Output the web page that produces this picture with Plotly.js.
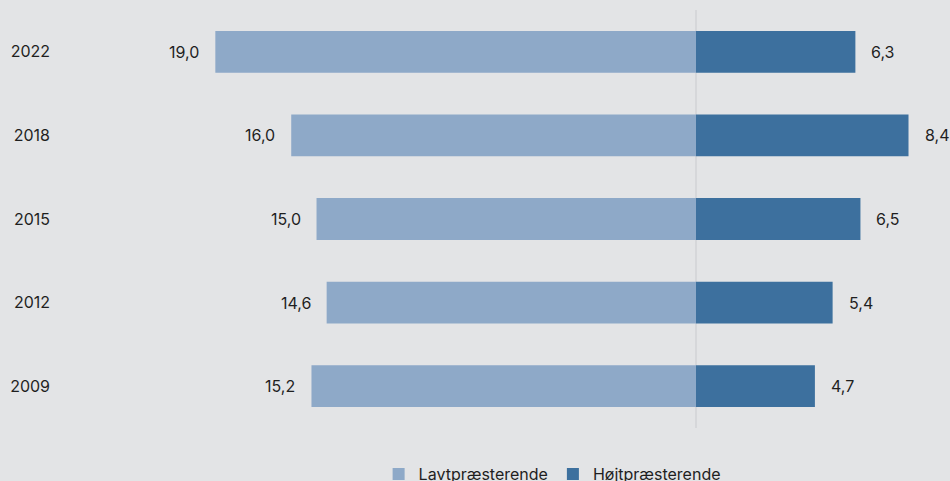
<!DOCTYPE html>
<html>
<head>
<meta charset="utf-8">
<script src="https://cdn.plot.ly/plotly-3.0.1.min.js"></script>
<style>
html,body{margin:0;padding:0;background:#e3e4e6;}
#chart{width:950px;height:481px;}
</style>
</head>
<body>
<div id="chart"></div>
<script>
const years = ['2022', '2018', '2015', '2012', '2009'];
const lowPerformers = [19.0, 16.0, 15.0, 14.6, 15.2];
const highPerformers = [6.3, 8.4, 6.5, 5.4, 4.7];
const seriesNames = ['Lavtpræsterende', 'Højtpræsterende'];

const lightBlue = '#8ea9c8';
const darkBlue = '#3d709e';
const fmt = v => v.toFixed(1).replace('.', ',');
const catOrder = years.slice().reverse();

const traces = [
  {
    type: 'bar', orientation: 'h', name: seriesNames[0],
    y: years, x: lowPerformers.map(v => -v),
    marker: {color: lightBlue}, width: 0.5, hoverinfo: 'skip'
  },
  {
    type: 'bar', orientation: 'h', name: seriesNames[1],
    y: years, x: highPerformers,
    marker: {color: darkBlue}, width: 0.5, hoverinfo: 'skip'
  }
];

const annotations = [];
years.forEach((yr, i) => {
  const yi = catOrder.indexOf(yr);
  annotations.push({
    x: -lowPerformers[i], y: yi, xref: 'x', yref: 'y',
    text: fmt(lowPerformers[i]), showarrow: false,
    xanchor: 'right', xshift: -14,
    font: {family: 'Inter, sans-serif', size: 16, color: '#1f1f1f'}
  });
  annotations.push({
    x: highPerformers[i], y: yi, xref: 'x', yref: 'y',
    text: fmt(highPerformers[i]), showarrow: false,
    xanchor: 'left', xshift: 14,
    font: {family: 'Inter, sans-serif', size: 16, color: '#1f1f1f'}
  });
});

const layout = {
  width: 950, height: 481,
  margin: {l: 60, r: 0, t: 10, b: 53, autoexpand: false},
  paper_bgcolor: '#e3e4e6', plot_bgcolor: '#e3e4e6',
  font: {family: 'Inter, sans-serif', size: 16, color: '#1f1f1f'},
  barmode: 'overlay',
  xaxis: {
    range: [-25.14, 10.04], showgrid: false, showticklabels: false,
    zeroline: true, zerolinecolor: '#d6d7da', zerolinewidth: 2,
    layer: 'above traces', fixedrange: true, automargin: false
  },
  yaxis: {
    type: 'category', categoryorder: 'array', categoryarray: catOrder,
    range: [-0.5, 4.5], autorange: false, automargin: false,
    showgrid: false, zeroline: false, ticks: '', ticklabelstandoff: 9,
    tickfont: {family: 'Inter, sans-serif', size: 16, color: '#1f1f1f'}
  },
  showlegend: true,
  legend: {
    orientation: 'h', x: 0.358, xanchor: 'left', y: -0.11, yanchor: 'middle',
    font: {family: 'Inter, sans-serif', size: 16, color: '#1f1f1f'},
    bgcolor: 'rgba(0,0,0,0)', itemwidth: 30, traceorder: 'normal'
  },
  annotations: annotations
};

Plotly.newPlot('chart', traces, layout, {displayModeBar: false, staticPlot: true});
</script>
</body>
</html>
